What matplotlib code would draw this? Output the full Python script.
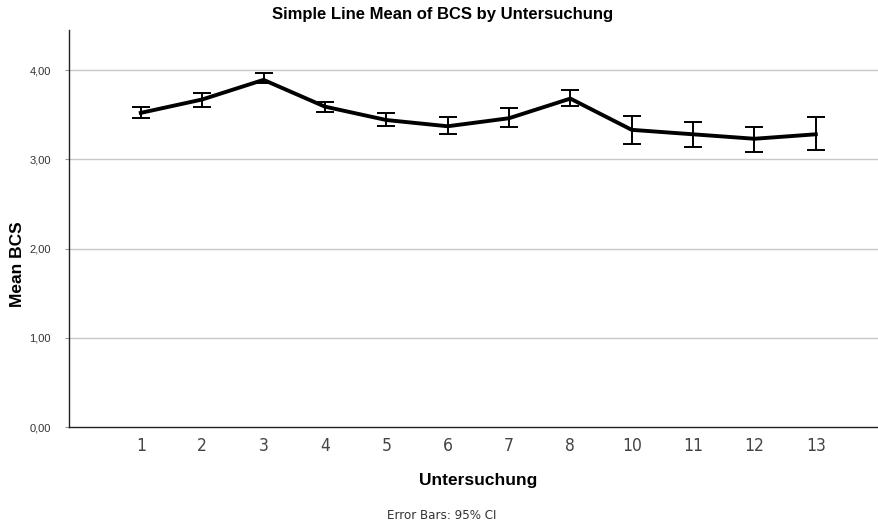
import matplotlib.pyplot as plt

# Data
untersuchung = ['1', '2', '3', '4', '5', '6', '7', '8', '10', '11', '12', '13']
mean_bcs = [3.52, 3.67, 3.89, 3.59, 3.44, 3.37, 3.46, 3.68, 3.33, 3.28, 3.23, 3.28]
ci_upper = [3.59, 3.74, 3.97, 3.64, 3.52, 3.47, 3.57, 3.78, 3.48, 3.42, 3.36, 3.47]
ci_lower = [3.46, 3.59, 3.85, 3.53, 3.37, 3.28, 3.36, 3.60, 3.17, 3.14, 3.08, 3.10]

plt.rcParams['font.family'] = ['Liberation Sans', 'DejaVu Sans']

fig = plt.figure(figsize=(8.79, 5.24), dpi=100)
ax = fig.add_axes([0.0785, 0.185, 0.9215, 0.758])

x = list(range(len(untersuchung)))
err_low = [m - l for m, l in zip(mean_bcs, ci_lower)]
err_high = [u - m for m, u in zip(mean_bcs, ci_upper)]

ax.errorbar(x, mean_bcs, yerr=[err_low, err_high], fmt='none', ecolor='black',
            elinewidth=1.4, capsize=6.5, capthick=1.4, zorder=3)
ax.plot(x, mean_bcs, color='black', linewidth=2.8, solid_joinstyle='round', zorder=4)

ax.set_xlim(-1.17, 12.03)
ax.set_ylim(0, 4.45)
ax.set_yticks([0, 1, 2, 3, 4])
ax.set_yticklabels(['0,00', '1,00', '2,00', '3,00', '4,00'], fontsize=8, color='#333333')
ax.set_xticks(x)
ax.set_xticklabels(untersuchung, fontsize=12.5, family='DejaVu Sans', color='#444444')
for lbl in ax.get_xticklabels():
    lbl.set_fontstretch('condensed')
ax.tick_params(axis='x', length=0, pad=7)
ax.tick_params(axis='y', length=3, width=0.8, color='#999999', pad=10)

for v in [1, 2, 3, 4]:
    ax.axhline(v, color='#c8c8c8', linewidth=1, zorder=1)

for s in ['top', 'right']:
    ax.spines[s].set_visible(False)
for s in ['left', 'bottom']:
    ax.spines[s].set_color('#222222')
    ax.spines[s].set_linewidth(1)

ax.set_ylabel('Mean BCS', fontsize=12.5, fontweight='bold', va='center')
ax.yaxis.set_label_coords(-0.064, 0.41)
ax.set_xlabel('Untersuchung', fontsize=12.5, fontweight='bold', va='center')
ax.xaxis.set_label_coords(0.505, -0.134)
fig.text(0.504, 0.972, 'Simple Line Mean of BCS by Untersuchung', ha='center', va='center',
         fontsize=12, fontweight='bold')
fig.text(0.503, 0.017, 'Error Bars: 95% CI', ha='center', va='center', fontsize=9.5,
         family='DejaVu Sans', stretch='condensed', color='#333333')

fig.savefig('out.png', dpi=100)
